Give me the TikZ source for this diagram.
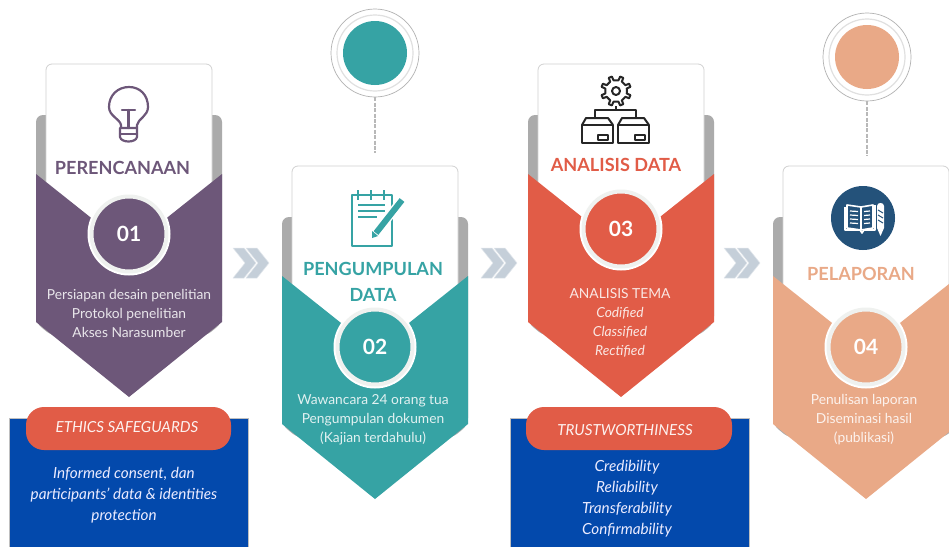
\documentclass[tikz,border=0pt]{standalone}
\usepackage{fontspec}
\setmainfont{Lato}
\definecolor{purp}{HTML}{6D5779}
\definecolor{teal2}{HTML}{36A3A4}
\definecolor{red2}{HTML}{E15C47}
\definecolor{peach}{HTML}{E9A987}
\definecolor{tabgray}{HTML}{ABABAB}
\definecolor{blue2}{HTML}{0349AC}
\definecolor{chev}{HTML}{C5CFD9}
\definecolor{navy}{HTML}{24527A}
\definecolor{ring}{HTML}{EFF1EF}
\tikzset{
  x=1pt,y=-1pt,
  cardtitle/.style={font=\fontsize{18.1}{26}\selectfont\bfseries,align=center,inner sep=0},
  bodytext/.style={font=\fontsize{13.8}{19}\selectfont,align=center,inner sep=0},
  bluetext/.style={font=\fontsize{15.3}{21}\selectfont\itshape,align=center,inner sep=0,text=blue!8!white},
  pilltext/.style={font=\fontsize{15.2}{18}\selectfont\itshape,inner sep=0,text=white!92!red2},
  numcircle/.style={circle,inner sep=0,minimum size=75pt,line width=4pt,draw=ring,text=white,font=\fontsize{21}{24}\selectfont\bfseries},
  topdisc/.style={circle,inner sep=0,minimum size=64pt},
  halo/.style={circle,inner sep=0,minimum size=88pt,draw=black!30,line width=.7pt,fill=white},
  halo2/.style={circle,inner sep=0,minimum size=76pt,draw=black!12,line width=1.2pt},
  tether/.style={draw=black!28,line width=2.8pt,dash pattern=on 4pt off 1.4pt},
  chevshape/.style={fill=chev,draw=white!50!chev,line width=.5pt,line join=round},
  icon/.style={line width=2.2pt,line join=round,line cap=round},
  bluebox/.style={fill=blue2,draw=black!25,line width=.4pt},
  pill/.style={fill=red2,rounded corners=18pt},
}
\newcommand{\stepcard}[6]{%
 % name, left x, card top y, colour, number-circle y (local), number
 \begin{scope}[shift={(#2,#3)}]
  \fill[tabgray,rounded corners=7pt] (0,51) -- (0,259) -- (16,272) -- (170,272) -- (186,259) -- (186,51) -- cycle;
  \fill[white,draw=black!18,line width=.8pt,rounded corners=6pt] (10,0) rectangle (176,160);
  \fill[#4] (0,110) -- (93,184) -- (186,110) -- (186,258) -- (93,333) -- (0,258) -- cycle;
  \node[circle,fill=white,minimum size=83pt,inner sep=0] at (93,#5) {};
  \node[numcircle,fill=#4] (#1) at (93,#5) {#6};
 \end{scope}}
\newcommand{\chevrons}[2]{%
 \begin{scope}[shift={(#1,#2)}]
  \fill[chevshape] (0,0) -- (11,0) -- (23,15) -- (11,30) -- (0,30) -- (12,15) -- cycle;
  \fill[chevshape] (13,0) -- (24,0) -- (36,15) -- (24,30) -- (13,30) -- (25,15) -- cycle;
 \end{scope}}
\begin{document}
\begin{tikzpicture}
\useasboundingbox (0,0) rectangle (949,546);
\clip (0,0) rectangle (949,546);
\fill[white] (0,0) rectangle (949,546);

% top discs
\node[halo] (h2) at (375,53) {};
\node[halo2] at (375,53) {};
\node[topdisc,fill=teal2] (d2) at (375,53) {};
\coordinate (t2) at (375,153);
\draw[tether] (h2.south) -- (t2);
\node[halo] (h4) at (867,57) {};
\node[halo2] at (867,57) {};
\node[topdisc,fill=peach] (d4) at (867,57) {};
\coordinate (t4) at (867,156);
\draw[tether] (h4.south) -- (t4);

% cards
\stepcard{n1}{36}{64}{purp}{170}{01}
\stepcard{n2}{282}{166}{teal2}{181}{02}
\stepcard{n3}{528}{64}{red2}{165}{03}
\stepcard{n4}{773}{166}{peach}{181}{04}

% chevrons
\chevrons{233}{248}
\chevrons{481}{248}
\chevrons{724}{248}

% titles
\node[cardtitle,text=purp] (ti1) at (122.5,167.5) {PERENCANAAN};
\node[cardtitle,text=teal2] (ti2) at (373,281.5) {PENGUMPULAN\\DATA};
\node[cardtitle,text=red2] (ti3) at (616,164.5) {ANALISIS DATA};
\node[cardtitle,text=peach] (ti4) at (861,273.5) {PELAPORAN};

% body text
\node[bodytext,text=white!85!purp] (b1) at (129,313) {Persiapan desain penelitian\\Protokol penelitian\\Akses Narasumber};
\node[bodytext,text=white!85!teal2] (b2) at (373,420) {Wawancara 24 orang tua\\Pengumpulan dokumen\\(Kajian terdahulu)};
\node[bodytext,text=white!85!red2] (b3) at (620,322.5) {ANALISIS TEMA\\\textit{Codified}\\\textit{Classified}\\\textit{Rectified}};
\node[bodytext,text=white!85!peach] (b4) at (864,420) {Penulisan laporan\\Diseminasi hasil\\(publikasi)};

% blue boxes
\draw[bluebox] (9,418) rectangle (248,550);
\fill[pill] (26,407) rectangle (231,450);
\node[pilltext] (p1) at (127,427.5) {ETHICS SAFEGUARDS};
\node[bluetext] (e1) at (124,495) {Informed consent, dan\\participants' data \& identities\\protection};
\draw[bluebox] (510,418) rectangle (749,550);
\fill[pill] (526,407) rectangle (732,450);
\node[pilltext] (p2) at (625,430.5) {TRUSTWORTHINESS};
\node[bluetext] (e2) at (627,499) {Credibility\\Reliability\\Transferability\\Confirmability};

% bulb icon
\begin{scope}[icon,draw=purp]
 \draw (121,128) -- (121,125) .. controls (120,119) and (109,116) .. (109,107) .. controls (109,95) and (118,87) .. (129,87) .. controls (140,87) and (148,95) .. (148,107) .. controls (148,116) and (138,119) .. (137,125) -- (137,128) -- cycle;
 \draw (122,110) -- (135,110) (128.5,110) -- (128.5,128);
 \draw (120,128) -- (120,137) .. controls (121,143) and (136,143) .. (137,137) -- (137,128);
 \draw (120,134) -- (137,134);
\end{scope}

% notepad icon
\begin{scope}[icon,draw=teal2,line cap=butt]
 \draw (352,195) rectangle (392,246);
 \draw[line width=2pt] (358,190) -- (358,200) (371,190) -- (371,200) (384,190) -- (384,200);
 \draw[line width=1.5pt] (358,205) -- (385,205) (358,211) -- (385,211) (358,217) -- (377,217);
 \draw[white,line width=9pt] (402,200) -- (375,234);
 \draw[line width=6pt] (402,200) -- (376,233);
 \fill[teal2] (378,236) -- (372,231) -- (372,238) -- cycle;
\end{scope}

% gear and boxes icon
\begin{scope}[shift={(616,91)},line width=2pt,line join=round,draw=black!85]
 \draw (0:11) \foreach \a in {0,45,...,315} { -- (\a+13:11) -- (\a+16:15) -- (\a+29:15) -- (\a+32:11)} -- cycle;
 \draw (0,0) circle (4);
\end{scope}
\begin{scope}[line width=2pt,line join=round,draw=black!85]
 \draw (616,106) -- (616,110) (595,118) -- (595,110) -- (636,110) -- (636,118);
 \draw (582,125) rectangle (613,143);
 \draw (582,125) -- (586,118) -- (608,118) -- (613,125);
 \draw (618,125) rectangle (649,143);
 \draw (618,125) -- (622,118) -- (644,118) -- (649,125);
 \draw[line width=1.4pt] (598,135) rectangle (608,140) (635,135) rectangle (645,140);
\end{scope}

% book icon
\node[circle,fill=navy,minimum size=64pt,inner sep=0] (bk) at (863,218) {};
\begin{scope}[white,line width=1.2pt,line join=round]
 \draw[line width=1.6pt] (845,207) -- (845,230) -- (860,230) -- (862,233) -- (864,230) -- (875,230) -- (875,205);
 \draw[line width=1.6pt] (847,205) -- (861,207) -- (873,205) -- (873,228) -- (861,230) -- (847,228) -- cycle;
 \draw (861,207) -- (861,230);
 \foreach \yy in {211,215,219,223} { \draw (850,\yy) -- (858,\yy+.5); \draw (864,\yy+.5) -- (870,\yy); }
 \fill[white] (877,206) .. controls (877,202) and (884,202) .. (884,206) -- (884,228) -- (880.5,236) -- (877,228) -- cycle;
 \foreach \yy in {210,215,220} { \draw[navy,line width=1pt] (878,\yy) -- (883,\yy+3); }
\end{scope}
\end{tikzpicture}
\end{document}
